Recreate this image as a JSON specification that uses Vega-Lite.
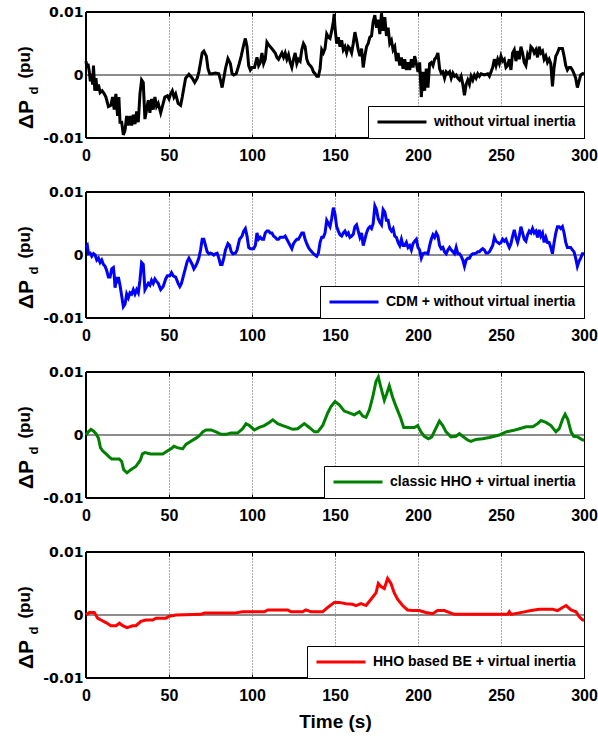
{
  "$schema": "https://vega.github.io/schema/vega-lite/v6.json",
  "background": "white",
  "padding": {"left": 14, "top": 4, "right": 6, "bottom": 4},
  "spacing": 54,
  "bounds": "flush",
  "resolve": {"scale": {"color": "independent"}},
  "config": {
    "view": {"stroke": "black", "strokeWidth": 1},
    "axis": {
      "grid": false,
      "domain": false,
      "tickColor": "black",
      "tickSize": -4,
      "labelColor": "black",
      "titleColor": "black",
      "labelFont": "Liberation Sans",
      "labelFontWeight": "bold",
      "titleFont": "Liberation Sans",
      "titleFontWeight": "bold"
    },
    "legend": {
      "orient": "bottom-right",
      "offset": 0,
      "padding": 8,
      "strokeColor": "black",
      "fillColor": "white",
      "cornerRadius": 0,
      "symbolType": "stroke",
      "symbolSize": 2401,
      "symbolStrokeWidth": 3,
      "clipHeight": 16,
      "labelFont": "Liberation Sans",
      "labelFontWeight": "bold",
      "labelFontSize": 14,
      "labelColor": "black",
      "labelOffset": 6,
      "labelLimit": 400
    }
  },
  "datasets": {
    "black": [
      {"t":0,"v":0.0022},{"t":0.6,"v":0.0012},{"t":1.2,"v":0.0018},{"t":2,"v":0.0005},{"t":2.6,"v":-0.001},{"t":3.2,"v":0.0002},{"t":4,"v":-0.0015},{"t":4.5,"v":0.0015},{"t":5.3,"v":-0.0025},{"t":6,"v":-0.0005},{"t":6.7,"v":-0.0025},{"t":7.5,"v":-0.0015},{"t":8.5,"v":-0.0028},{"t":9.7,"v":-0.0025},{"t":11,"v":-0.003},{"t":12,"v":-0.0035},{"t":13.5,"v":-0.005},{"t":15,"v":-0.0048},{"t":16,"v":-0.0035},{"t":17,"v":-0.0055},{"t":18,"v":-0.003},{"t":19,"v":-0.0065},{"t":19.8,"v":-0.0035},{"t":20.5,"v":-0.0075},{"t":21.5,"v":-0.0075},{"t":22.5,"v":-0.0095},{"t":23.5,"v":-0.0088},{"t":24.5,"v":-0.0065},{"t":25.5,"v":-0.008},{"t":26.5,"v":-0.0065},{"t":27.5,"v":-0.008},{"t":28.5,"v":-0.0063},{"t":29.5,"v":-0.0078},{"t":30.5,"v":-0.0058},{"t":31.5,"v":-0.0075},{"t":32.5,"v":-0.003},{"t":33.5,"v":-0.0008},{"t":34.5,"v":-0.0012},{"t":35.5,"v":-0.007},{"t":36.5,"v":-0.0055},{"t":37.5,"v":-0.004},{"t":38.5,"v":-0.006},{"t":39.5,"v":-0.0038},{"t":40.5,"v":-0.0055},{"t":41.5,"v":-0.0035},{"t":42.5,"v":-0.005},{"t":43.5,"v":-0.0045},{"t":45,"v":-0.006},{"t":46.5,"v":-0.0045},{"t":47.5,"v":-0.0035},{"t":49,"v":-0.0033},{"t":50,"v":-0.0038},{"t":51,"v":-0.003},{"t":52,"v":-0.0025},{"t":53,"v":-0.0035},{"t":54,"v":-0.003},{"t":55.5,"v":-0.0045},{"t":57,"v":-0.0048},{"t":58,"v":-0.0035},{"t":59,"v":-0.002},{"t":60,"v":-0.0005},{"t":62,"v":0.0001},{"t":64,"v":-0.0005},{"t":65.5,"v":-0.0012},{"t":67,"v":-0.0005},{"t":68,"v":0.0005},{"t":69,"v":0.002},{"t":70,"v":0.0035},{"t":71,"v":0.0038},{"t":72.5,"v":0.003},{"t":73.5,"v":0.001},{"t":74.5,"v":0.0002},{"t":76,"v":0.0002},{"t":78,"v":0.0003},{"t":80,"v":0.0002},{"t":81,"v":-0.0008},{"t":82,"v":-0.002},{"t":83,"v":-0.0005},{"t":84,"v":0.001},{"t":85.5,"v":0.0026},{"t":87,"v":0.0018},{"t":88,"v":0.0002},{"t":89,"v":0},{"t":90.5,"v":0.0002},{"t":92,"v":0.0015},{"t":93.5,"v":0.003},{"t":95,"v":0.0048},{"t":96,"v":0.0058},{"t":97,"v":0.0045},{"t":98,"v":0.0015},{"t":99,"v":0.0008},{"t":100,"v":0.0012},{"t":101.5,"v":0.0012},{"t":103,"v":0.0028},{"t":104,"v":0.0015},{"t":105,"v":0.002},{"t":106,"v":0.0035},{"t":107,"v":0.0018},{"t":108,"v":0.0025},{"t":109,"v":0.0052},{"t":110,"v":0.0048},{"t":111,"v":0.0045},{"t":112.5,"v":0.004},{"t":114,"v":0.0035},{"t":115,"v":0.0028},{"t":116,"v":0.0025},{"t":117,"v":0.003},{"t":118,"v":0.0035},{"t":119,"v":0.0028},{"t":120,"v":0.0035},{"t":121,"v":0.0025},{"t":122,"v":0.0032},{"t":123,"v":0.002},{"t":124,"v":0.0012},{"t":125,"v":0.0025},{"t":126,"v":0.0035},{"t":127,"v":0.0018},{"t":128,"v":0.0025},{"t":129,"v":0.0022},{"t":130,"v":0.004},{"t":131,"v":0.005},{"t":132,"v":0.0045},{"t":133,"v":0.0025},{"t":134,"v":0.0018},{"t":135,"v":0.0015},{"t":136,"v":0.0012},{"t":137,"v":0.0005},{"t":138,"v":0.0002},{"t":139,"v":-0.0002},{"t":140,"v":-0.0002},{"t":141,"v":0.001},{"t":142,"v":0.004},{"t":143,"v":0.0035},{"t":144,"v":0.0042},{"t":145,"v":0.0065},{"t":146,"v":0.006},{"t":147,"v":0.0058},{"t":148,"v":0.007},{"t":149,"v":0.0085},{"t":149.5,"v":0.0097},{"t":150,"v":0.0075},{"t":151,"v":0.005},{"t":152,"v":0.006},{"t":153,"v":0.0045},{"t":154,"v":0.0055},{"t":155,"v":0.004},{"t":156,"v":0.0045},{"t":157,"v":0.0035},{"t":158,"v":0.0045},{"t":159,"v":0.0042},{"t":160,"v":0.0035},{"t":161,"v":0.005},{"t":162,"v":0.0068},{"t":163,"v":0.0055},{"t":164,"v":0.004},{"t":165,"v":0.003},{"t":166,"v":0.0042},{"t":167,"v":0.0012},{"t":168,"v":0.003},{"t":169,"v":0.0045},{"t":170,"v":0.005},{"t":171,"v":0.006},{"t":172,"v":0.0062},{"t":173,"v":0.0085},{"t":174,"v":0.0095},{"t":175,"v":0.0075},{"t":176,"v":0.0088},{"t":177,"v":0.0065},{"t":178,"v":0.0098},{"t":179,"v":0.007},{"t":180,"v":0.0092},{"t":181,"v":0.0062},{"t":182,"v":0.0075},{"t":183,"v":0.005},{"t":184,"v":0.0055},{"t":185,"v":0.004},{"t":186,"v":0.0045},{"t":187,"v":0.0022},{"t":188,"v":0.0035},{"t":189,"v":0.0015},{"t":190,"v":0.0028},{"t":191,"v":0.001},{"t":192,"v":0.0025},{"t":193,"v":0.0008},{"t":194,"v":0.002},{"t":195,"v":0.0008},{"t":196,"v":0.0025},{"t":197,"v":0.0012},{"t":198,"v":0.003},{"t":199,"v":0.0018},{"t":200,"v":0.0005},{"t":201,"v":0.002},{"t":202,"v":-0.0035},{"t":203,"v":0.0005},{"t":204,"v":-0.0025},{"t":205,"v":0.001},{"t":206,"v":-0.002},{"t":207,"v":0.0018},{"t":208,"v":0.002},{"t":209,"v":0.0015},{"t":210,"v":0.0025},{"t":211,"v":0.0028},{"t":212,"v":0.0035},{"t":213,"v":0.001},{"t":214,"v":0.0003},{"t":215,"v":0.0005},{"t":216,"v":-0.0005},{"t":217,"v":0.0005},{"t":218,"v":0.0002},{"t":219,"v":0.0005},{"t":220,"v":-0.0005},{"t":221,"v":0.0003},{"t":222,"v":-0.0002},{"t":223,"v":0},{"t":224,"v":-0.0005},{"t":225,"v":-0.0008},{"t":226,"v":-0.0002},{"t":227,"v":-0.0015},{"t":228,"v":-0.0032},{"t":229,"v":-0.0015},{"t":230,"v":-0.0008},{"t":231,"v":-0.0015},{"t":232,"v":-0.0002},{"t":233,"v":-0.0008},{"t":234,"v":0},{"t":235,"v":-0.0005},{"t":236,"v":0.0002},{"t":237,"v":-0.0002},{"t":238,"v":0.0002},{"t":240,"v":0},{"t":242,"v":0.0002},{"t":243,"v":-0.0002},{"t":244,"v":0.0005},{"t":245,"v":0.0012},{"t":246,"v":0.0025},{"t":247,"v":0.0015},{"t":248,"v":0.0025},{"t":249,"v":0.0018},{"t":250,"v":0.003},{"t":251,"v":0.0022},{"t":252,"v":0.0025},{"t":253,"v":0.0012},{"t":254,"v":0.0015},{"t":255,"v":0.0025},{"t":256,"v":0.0008},{"t":257,"v":0.0035},{"t":258,"v":0.004},{"t":259,"v":0.0022},{"t":260,"v":0.0038},{"t":261,"v":0.0025},{"t":262,"v":0.0045},{"t":263,"v":0.0035},{"t":264,"v":0.002},{"t":265,"v":0.0015},{"t":266,"v":0.0032},{"t":267,"v":0.0025},{"t":268,"v":0.0045},{"t":269,"v":0.0042},{"t":270,"v":0.0035},{"t":271,"v":0.004},{"t":272,"v":0.0028},{"t":273,"v":0.0045},{"t":274,"v":0.0035},{"t":275,"v":0.0038},{"t":276,"v":0.0025},{"t":277,"v":0.003},{"t":278,"v":0.002},{"t":279,"v":0.0025},{"t":280,"v":0.0018},{"t":281,"v":-0.0018},{"t":282,"v":0.0012},{"t":283,"v":0.003},{"t":284,"v":0.0035},{"t":285,"v":0.0042},{"t":286,"v":0.0042},{"t":287,"v":0.0042},{"t":288,"v":0.003},{"t":289,"v":0.0015},{"t":290,"v":0.0008},{"t":291,"v":0.0012},{"t":292,"v":0.0012},{"t":293,"v":0.0008},{"t":294,"v":0.0002},{"t":295,"v":-0.0005},{"t":296,"v":-0.002},{"t":297,"v":-0.001},{"t":298,"v":0},{"t":299,"v":0.0002},{"t":300,"v":0.0003}
    ],
    "blue": [
      {"t":0,"v":0.0012},{"t":0.8,"v":0.0015},{"t":1.5,"v":0.0002},{"t":2.5,"v":0.0003},{"t":3.5,"v":-0.0002},{"t":4.5,"v":0.0002},{"t":5.5,"v":0},{"t":6.5,"v":-0.0008},{"t":7.5,"v":-0.0005},{"t":8.5,"v":-0.0012},{"t":9.5,"v":-0.0008},{"t":10.5,"v":-0.0015},{"t":11.5,"v":-0.0018},{"t":12.5,"v":-0.0025},{"t":13.5,"v":-0.0035},{"t":14.5,"v":-0.0035},{"t":15.5,"v":-0.0022},{"t":16.5,"v":-0.002},{"t":17,"v":-0.0032},{"t":17.5,"v":-0.0052},{"t":18.5,"v":-0.0035},{"t":19,"v":-0.0045},{"t":19.5,"v":-0.0035},{"t":20.5,"v":-0.0048},{"t":21.5,"v":-0.0065},{"t":22.5,"v":-0.0082},{"t":23.5,"v":-0.0078},{"t":24.5,"v":-0.0062},{"t":25.5,"v":-0.0068},{"t":26.5,"v":-0.006},{"t":27.5,"v":-0.0062},{"t":28.5,"v":-0.0055},{"t":29.5,"v":-0.0062},{"t":30.5,"v":-0.0055},{"t":31.5,"v":-0.006},{"t":32.5,"v":-0.004},{"t":33.5,"v":-0.0012},{"t":34.5,"v":-0.0015},{"t":35.5,"v":-0.0055},{"t":36.5,"v":-0.005},{"t":37.5,"v":-0.0045},{"t":38.5,"v":-0.0048},{"t":39.5,"v":-0.004},{"t":40.5,"v":-0.0045},{"t":41.5,"v":-0.0038},{"t":42.5,"v":-0.0042},{"t":43.5,"v":-0.0045},{"t":45,"v":-0.0055},{"t":46.5,"v":-0.005},{"t":48,"v":-0.0038},{"t":49,"v":-0.0033},{"t":50.5,"v":-0.0033},{"t":51.5,"v":-0.0028},{"t":52.5,"v":-0.0033},{"t":54,"v":-0.0035},{"t":55.5,"v":-0.0045},{"t":56.5,"v":-0.005},{"t":57.5,"v":-0.0045},{"t":59,"v":-0.003},{"t":60,"v":-0.002},{"t":61,"v":-0.001},{"t":62,"v":-0.0005},{"t":63,"v":-0.001},{"t":64,"v":-0.0015},{"t":65,"v":-0.0022},{"t":66,"v":-0.0018},{"t":67,"v":-0.0012},{"t":68,"v":-0.0005},{"t":69,"v":0.0008},{"t":70,"v":0.0025},{"t":71,"v":0.0025},{"t":72,"v":0.0015},{"t":73,"v":0.0005},{"t":74,"v":0.0002},{"t":75,"v":0.0003},{"t":76,"v":0.0002},{"t":77,"v":0},{"t":78,"v":0.0002},{"t":79,"v":0.0003},{"t":80,"v":-0.0005},{"t":81,"v":-0.0015},{"t":82,"v":-0.0015},{"t":83,"v":-0.0005},{"t":84,"v":0.0008},{"t":85.5,"v":0.0018},{"t":86.5,"v":0.0015},{"t":87.5,"v":0.0005},{"t":88.5,"v":0.0002},{"t":90,"v":0.0003},{"t":91,"v":0.0008},{"t":92.5,"v":0.0025},{"t":94,"v":0.003},{"t":95,"v":0.0038},{"t":96,"v":0.0042},{"t":97,"v":0.003},{"t":98,"v":0.0012},{"t":99,"v":0.001},{"t":100,"v":0.001},{"t":101,"v":0.001},{"t":102,"v":0.0015},{"t":103,"v":0.0035},{"t":104,"v":0.0025},{"t":105,"v":0.0028},{"t":106,"v":0.0025},{"t":107,"v":0.0025},{"t":108,"v":0.0035},{"t":109,"v":0.0038},{"t":110,"v":0.0038},{"t":111,"v":0.0035},{"t":112,"v":0.0035},{"t":113,"v":0.003},{"t":114,"v":0.0028},{"t":115,"v":0.0025},{"t":116,"v":0.0025},{"t":117,"v":0.0028},{"t":118,"v":0.0028},{"t":119,"v":0.0028},{"t":120,"v":0.003},{"t":121,"v":0.0025},{"t":122,"v":0.002},{"t":123,"v":0.0015},{"t":124,"v":0.001},{"t":125,"v":0.0018},{"t":126,"v":0.0022},{"t":127,"v":0.0025},{"t":128,"v":0.0025},{"t":129,"v":0.003},{"t":130,"v":0.0035},{"t":131,"v":0.0035},{"t":132,"v":0.0025},{"t":133,"v":0.0018},{"t":134,"v":0.0012},{"t":135,"v":0.0008},{"t":136,"v":0.0005},{"t":137,"v":0.0002},{"t":138,"v":0},{"t":139,"v":-0.0002},{"t":140,"v":0.0003},{"t":141,"v":0.002},{"t":142,"v":0.0028},{"t":143,"v":0.0028},{"t":144,"v":0.0035},{"t":145,"v":0.0055},{"t":146,"v":0.005},{"t":147,"v":0.0045},{"t":148,"v":0.0058},{"t":149,"v":0.0075},{"t":150,"v":0.0065},{"t":151,"v":0.0045},{"t":152,"v":0.0038},{"t":153,"v":0.0032},{"t":154,"v":0.003},{"t":155,"v":0.0035},{"t":156,"v":0.0038},{"t":157,"v":0.0032},{"t":158,"v":0.0035},{"t":159,"v":0.0028},{"t":160,"v":0.003},{"t":161,"v":0.0033},{"t":162,"v":0.0045},{"t":163,"v":0.0048},{"t":164,"v":0.0038},{"t":165,"v":0.0028},{"t":166,"v":0.0035},{"t":167,"v":0.0015},{"t":168,"v":0.0025},{"t":169,"v":0.0035},{"t":170,"v":0.0042},{"t":171,"v":0.0045},{"t":172,"v":0.0042},{"t":173,"v":0.005},{"t":174,"v":0.0078},{"t":175,"v":0.0072},{"t":176,"v":0.0058},{"t":177,"v":0.0052},{"t":178,"v":0.0048},{"t":179,"v":0.0072},{"t":180,"v":0.0068},{"t":181,"v":0.0055},{"t":182,"v":0.0055},{"t":183,"v":0.0042},{"t":184,"v":0.0038},{"t":185,"v":0.0042},{"t":186,"v":0.003},{"t":187,"v":0.0028},{"t":188,"v":0.002},{"t":189,"v":0.0015},{"t":190,"v":0.0025},{"t":191,"v":0.0015},{"t":192,"v":0.0015},{"t":193,"v":0.002},{"t":194,"v":0.0012},{"t":195,"v":0.0015},{"t":196,"v":0.0008},{"t":197,"v":0.0018},{"t":198,"v":0.0022},{"t":199,"v":0.0025},{"t":200,"v":0.0012},{"t":201,"v":0.0008},{"t":202,"v":-0.0005},{"t":203,"v":0.0002},{"t":204,"v":0.0003},{"t":205,"v":0.0003},{"t":206,"v":0.0002},{"t":207,"v":0.0015},{"t":208,"v":0.0025},{"t":209,"v":0.0032},{"t":210,"v":0.0028},{"t":211,"v":0.0035},{"t":212,"v":0.003},{"t":213,"v":0.0015},{"t":214,"v":0.001},{"t":215,"v":0.0012},{"t":216,"v":0.0005},{"t":217,"v":0.0002},{"t":218,"v":0.0008},{"t":219,"v":0.0012},{"t":220,"v":0.0008},{"t":221,"v":0.0005},{"t":222,"v":0.0002},{"t":223,"v":0.0012},{"t":224,"v":0.0002},{"t":225,"v":0.0002},{"t":226,"v":-0.0002},{"t":227,"v":-0.0008},{"t":228,"v":-0.0018},{"t":229,"v":-0.0008},{"t":230,"v":-0.0005},{"t":231,"v":-0.0005},{"t":232,"v":0},{"t":233,"v":0.0002},{"t":234,"v":0.0002},{"t":235,"v":0.0003},{"t":236,"v":0.0005},{"t":237,"v":0.0005},{"t":238,"v":0.0008},{"t":239,"v":0.001},{"t":240,"v":0.0008},{"t":241,"v":0.0003},{"t":242,"v":0.0003},{"t":243,"v":0.0005},{"t":244,"v":0.001},{"t":245,"v":0.0015},{"t":246,"v":0.0028},{"t":247,"v":0.0022},{"t":248,"v":0.002},{"t":249,"v":0.0018},{"t":250,"v":0.002},{"t":251,"v":0.0025},{"t":252,"v":0.0022},{"t":253,"v":0.0025},{"t":254,"v":0.0018},{"t":255,"v":0.0012},{"t":256,"v":0.0018},{"t":257,"v":0.003},{"t":258,"v":0.004},{"t":259,"v":0.0028},{"t":260,"v":0.002},{"t":261,"v":0.003},{"t":262,"v":0.0045},{"t":263,"v":0.0035},{"t":264,"v":0.0025},{"t":265,"v":0.0022},{"t":266,"v":0.0032},{"t":267,"v":0.0038},{"t":268,"v":0.0035},{"t":269,"v":0.0042},{"t":270,"v":0.0035},{"t":271,"v":0.0038},{"t":272,"v":0.0028},{"t":273,"v":0.004},{"t":274,"v":0.003},{"t":275,"v":0.0035},{"t":276,"v":0.002},{"t":277,"v":0.0028},{"t":278,"v":0.002},{"t":279,"v":0.002},{"t":280,"v":0.0012},{"t":281,"v":0.0002},{"t":282,"v":0.002},{"t":283,"v":0.0035},{"t":284,"v":0.0045},{"t":285,"v":0.0045},{"t":286,"v":0.0042},{"t":287,"v":0.0045},{"t":288,"v":0.0035},{"t":289,"v":0.002},{"t":290,"v":0.0012},{"t":291,"v":0.0012},{"t":292,"v":0.0012},{"t":293,"v":0.0008},{"t":294,"v":0.0005},{"t":295,"v":-0.0005},{"t":296,"v":-0.0018},{"t":297,"v":-0.001},{"t":298,"v":-0.0005},{"t":299,"v":0.0002},{"t":300,"v":0.0002}
    ],
    "green": [
      {"t":0,"v":0},{"t":1.4,"v":0.0005},{"t":3,"v":0.0009},{"t":4.6,"v":0.0006},{"t":6,"v":0.0002},{"t":7.5,"v":-0.0005},{"t":8.7,"v":-0.002},{"t":10,"v":-0.0025},{"t":12.1,"v":-0.003},{"t":14.1,"v":-0.0035},{"t":15.5,"v":-0.0038},{"t":17,"v":-0.0038},{"t":20,"v":-0.0038},{"t":21.5,"v":-0.0042},{"t":22.7,"v":-0.0055},{"t":24.7,"v":-0.006},{"t":27,"v":-0.0055},{"t":30,"v":-0.005},{"t":32.7,"v":-0.004},{"t":34,"v":-0.003},{"t":35.5,"v":-0.0028},{"t":39,"v":-0.003},{"t":43,"v":-0.003},{"t":46.2,"v":-0.003},{"t":49.2,"v":-0.0025},{"t":51.2,"v":-0.0022},{"t":53,"v":-0.0018},{"t":55,"v":-0.002},{"t":58.2,"v":-0.0022},{"t":60.2,"v":-0.0015},{"t":63.2,"v":-0.001},{"t":66.3,"v":-0.0005},{"t":68.8,"v":0},{"t":70.3,"v":0.0005},{"t":72.3,"v":0.0008},{"t":75.3,"v":0.0008},{"t":78.3,"v":0.0005},{"t":81.3,"v":0.0001},{"t":84.3,"v":0.0001},{"t":87.3,"v":0.0003},{"t":91.3,"v":0.0003},{"t":94.4,"v":0.001},{"t":96.4,"v":0.0018},{"t":98.4,"v":0.0015},{"t":101.4,"v":0.0008},{"t":104.4,"v":0.0012},{"t":107.4,"v":0.0015},{"t":110.4,"v":0.002},{"t":112.5,"v":0.0024},{"t":115.5,"v":0.0018},{"t":118.5,"v":0.0015},{"t":121.5,"v":0.0012},{"t":124.5,"v":0.0009},{"t":127.5,"v":0.001},{"t":131.5,"v":0.0018},{"t":134.5,"v":0.0012},{"t":137.6,"v":0.0005},{"t":139.6,"v":0.0005},{"t":142.6,"v":0.0015},{"t":145.6,"v":0.0035},{"t":147.6,"v":0.0045},{"t":150,"v":0.0053},{"t":152.6,"v":0.0048},{"t":155.6,"v":0.0038},{"t":158.6,"v":0.0035},{"t":161.6,"v":0.0032},{"t":164.7,"v":0.0037},{"t":166.7,"v":0.003},{"t":168.7,"v":0.0028},{"t":170.7,"v":0.004},{"t":172.7,"v":0.006},{"t":174.7,"v":0.0085},{"t":176.1,"v":0.0092},{"t":177.7,"v":0.0075},{"t":179.7,"v":0.0055},{"t":181.1,"v":0.0065},{"t":182.7,"v":0.0078},{"t":184.7,"v":0.006},{"t":186.8,"v":0.0045},{"t":189.4,"v":0.0028},{"t":191.4,"v":0.0012},{"t":194.8,"v":0.0012},{"t":197.8,"v":0.0012},{"t":199.8,"v":0.0015},{"t":201.8,"v":0.0005},{"t":203.8,"v":-0.0002},{"t":206.3,"v":-0.0006},{"t":208.3,"v":-0.0003},{"t":210.3,"v":0.0008},{"t":212.9,"v":0.0022},{"t":214.9,"v":0.0015},{"t":216.9,"v":0.0005},{"t":219.9,"v":-0.0003},{"t":222.9,"v":-0.0002},{"t":224.9,"v":0.0002},{"t":226.9,"v":-0.0002},{"t":229.9,"v":-0.0008},{"t":231.9,"v":-0.001},{"t":234.9,"v":-0.0007},{"t":238.9,"v":-0.0006},{"t":243,"v":-0.0004},{"t":246,"v":-0.0002},{"t":249,"v":0},{"t":253,"v":0.0005},{"t":257.1,"v":0.0007},{"t":261.1,"v":0.001},{"t":265.1,"v":0.0013},{"t":269.1,"v":0.0013},{"t":272.1,"v":0.0018},{"t":274.1,"v":0.0023},{"t":277.1,"v":0.002},{"t":280.1,"v":0.0015},{"t":283.1,"v":0.0005},{"t":285.1,"v":0.001},{"t":287.1,"v":0.0025},{"t":288.6,"v":0.0033},{"t":290.2,"v":0.0025},{"t":292.2,"v":0.0005},{"t":293.8,"v":-0.0002},{"t":296.2,"v":-0.0003},{"t":299.2,"v":-0.0008},{"t":300,"v":-0.0008}
    ],
    "red": [
      {"t":0,"v":0},{"t":2,"v":0.0004},{"t":5,"v":0.0004},{"t":7,"v":-0.0005},{"t":9,"v":-0.0008},{"t":12,"v":-0.0012},{"t":15,"v":-0.0017},{"t":18.2,"v":-0.0017},{"t":20.1,"v":-0.0013},{"t":22.1,"v":-0.0017},{"t":24.7,"v":-0.002},{"t":28.1,"v":-0.0017},{"t":30.1,"v":-0.0017},{"t":33.1,"v":-0.001},{"t":36.1,"v":-0.0008},{"t":40.2,"v":-0.0008},{"t":42.2,"v":-0.0005},{"t":48.2,"v":-0.0005},{"t":50.2,"v":-0.0002},{"t":54.2,"v":0},{"t":69.3,"v":0.0001},{"t":71.3,"v":0.0003},{"t":89.3,"v":0.0003},{"t":94.4,"v":0.0005},{"t":107.4,"v":0.0005},{"t":109.5,"v":0.0008},{"t":121.5,"v":0.0008},{"t":123.5,"v":0.0005},{"t":130.5,"v":0.0005},{"t":132.5,"v":0.0008},{"t":135.6,"v":0.0005},{"t":142.6,"v":0.0005},{"t":145.6,"v":0.0012},{"t":149.6,"v":0.002},{"t":152.6,"v":0.002},{"t":156.6,"v":0.0018},{"t":160.6,"v":0.0017},{"t":162.6,"v":0.0015},{"t":165.7,"v":0.0018},{"t":168.7,"v":0.0015},{"t":171.7,"v":0.0025},{"t":174.7,"v":0.0035},{"t":176.1,"v":0.005},{"t":177.7,"v":0.0045},{"t":179.7,"v":0.0042},{"t":181.7,"v":0.0058},{"t":183.7,"v":0.005},{"t":185.7,"v":0.0035},{"t":187.7,"v":0.0025},{"t":190.7,"v":0.0015},{"t":193.7,"v":0.0008},{"t":196.7,"v":0.0007},{"t":200.8,"v":0.0007},{"t":204.8,"v":0.0004},{"t":208.8,"v":0.0002},{"t":211.8,"v":0.0007},{"t":215.8,"v":0.0007},{"t":219.9,"v":0.0003},{"t":221.9,"v":0.0001},{"t":231.9,"v":0.0001},{"t":243.9,"v":0.0001},{"t":254,"v":0.0001},{"t":255,"v":0.0005},{"t":256,"v":0.0001},{"t":264.1,"v":0.0005},{"t":268.1,"v":0.0007},{"t":273.1,"v":0.0009},{"t":281.1,"v":0.0009},{"t":284.1,"v":0.0007},{"t":287.1,"v":0.0012},{"t":289.2,"v":0.0015},{"t":292.2,"v":0.0008},{"t":295.2,"v":0.0005},{"t":297.2,"v":-0.0003},{"t":299.2,"v":-0.0008},{"t":300,"v":-0.0008}
    ]
  },
  "vconcat": [
    {
      "width": 498, "height": 126,
      "data": {"name": "black"},
      "resolve": {"axis": {"x": "independent", "y": "independent"}},
      "layer": [
        {"mark": {"type": "rule", "color": "#8c8c8c", "strokeWidth": 1},
         "encoding": {"y": {"datum": 0, "type": "quantitative", "scale": {"domain": [-0.01, 0.01], "nice": false},
           "axis": {"orient": "right", "values": [-0.01, 0, 0.01], "labels": false, "title": null}}}},
        {"mark": {"type": "rule", "color": "black", "strokeWidth": 1},
         "encoding": {"x": {"datum": 0, "type": "quantitative", "scale": {"domain": [0, 300], "nice": false},
           "axis": {"orient": "top", "values": [50, 100, 150, 200, 250], "labels": false, "title": null, "grid": true, "gridDash": [1, 2], "gridColor": "#555555", "gridWidth": 1}}}},
        {"mark": {"type": "line", "strokeWidth": 3},
         "encoding": {
           "x": {"field": "t", "type": "quantitative", "scale": {"domain": [0, 300], "nice": false},
             "axis": {"values": [0, 50, 100, 150, 200, 250, 300], "title": null, "labelFontSize": 16, "labelPadding": 13, "labelFlush": false}},
           "y": {"field": "v", "type": "quantitative", "scale": {"domain": [-0.01, 0.01], "nice": false},
             "axis": {"values": [-0.01, 0, 0.01], "labelExpr": "replace(format(datum.value, '~g'), '\u2212', '-')", "labelFont": "DejaVu Sans", "labelFontSize": 14, "labelPadding": 7, "labelFlush": false,
               "title": "ΔP", "titleFontSize": 21, "titleAngle": 270, "titleAlign": "center", "titleBaseline": "middle", "titleX": -60, "titleY": 102}},
           "color": {"datum": "without virtual inertia", "scale": {"range": ["#000000"]}, "legend": {"title": null}}
         }},
        {"mark": {"type": "rule", "color": "black", "strokeWidth": 1},
         "encoding": {"y": {"datum": -0.01, "type": "quantitative", "scale": {"domain": [-0.01, 0.01], "nice": false},
           "axis": {"orient": "left", "labels": false, "ticks": false, "title": "d", "titleFontSize": 13, "titleAngle": 270, "titleAlign": "center", "titleBaseline": "middle", "titleX": -53, "titleY": 78}}}},
        {"mark": {"type": "rule", "color": "black", "strokeWidth": 1},
         "encoding": {"y": {"datum": 0.01, "type": "quantitative", "scale": {"domain": [-0.01, 0.01], "nice": false},
           "axis": {"orient": "left", "labels": false, "ticks": false, "title": "(pu)", "titleFontSize": 17, "titleAngle": 270, "titleAlign": "center", "titleBaseline": "middle", "titleX": -62, "titleY": 50}}}}
      ]
    },
    {
      "width": 498, "height": 126,
      "data": {"name": "blue"},
      "resolve": {"axis": {"x": "independent", "y": "independent"}},
      "layer": [
        {"mark": {"type": "rule", "color": "#8c8c8c", "strokeWidth": 1},
         "encoding": {"y": {"datum": 0, "type": "quantitative", "scale": {"domain": [-0.01, 0.01], "nice": false},
           "axis": {"orient": "right", "values": [-0.01, 0, 0.01], "labels": false, "title": null}}}},
        {"mark": {"type": "rule", "color": "black", "strokeWidth": 1},
         "encoding": {"x": {"datum": 0, "type": "quantitative", "scale": {"domain": [0, 300], "nice": false},
           "axis": {"orient": "top", "values": [50, 100, 150, 200, 250], "labels": false, "title": null, "grid": true, "gridDash": [1, 2], "gridColor": "#555555", "gridWidth": 1}}}},
        {"mark": {"type": "line", "strokeWidth": 3},
         "encoding": {
           "x": {"field": "t", "type": "quantitative", "scale": {"domain": [0, 300], "nice": false},
             "axis": {"values": [0, 50, 100, 150, 200, 250, 300], "title": null, "labelFontSize": 16, "labelPadding": 13, "labelFlush": false}},
           "y": {"field": "v", "type": "quantitative", "scale": {"domain": [-0.01, 0.01], "nice": false},
             "axis": {"values": [-0.01, 0, 0.01], "labelExpr": "replace(format(datum.value, '~g'), '\u2212', '-')", "labelFont": "DejaVu Sans", "labelFontSize": 14, "labelPadding": 7, "labelFlush": false,
               "title": "ΔP", "titleFontSize": 21, "titleAngle": 270, "titleAlign": "center", "titleBaseline": "middle", "titleX": -60, "titleY": 102}},
           "color": {"datum": "CDM + without virtual inertia", "scale": {"range": ["#0000ff"]}, "legend": {"title": null}}
         }},
        {"mark": {"type": "rule", "color": "black", "strokeWidth": 1},
         "encoding": {"y": {"datum": -0.01, "type": "quantitative", "scale": {"domain": [-0.01, 0.01], "nice": false},
           "axis": {"orient": "left", "labels": false, "ticks": false, "title": "d", "titleFontSize": 13, "titleAngle": 270, "titleAlign": "center", "titleBaseline": "middle", "titleX": -53, "titleY": 78}}}},
        {"mark": {"type": "rule", "color": "black", "strokeWidth": 1},
         "encoding": {"y": {"datum": 0.01, "type": "quantitative", "scale": {"domain": [-0.01, 0.01], "nice": false},
           "axis": {"orient": "left", "labels": false, "ticks": false, "title": "(pu)", "titleFontSize": 17, "titleAngle": 270, "titleAlign": "center", "titleBaseline": "middle", "titleX": -62, "titleY": 50}}}}
      ]
    },
    {
      "width": 498, "height": 126,
      "data": {"name": "green"},
      "resolve": {"axis": {"x": "independent", "y": "independent"}},
      "layer": [
        {"mark": {"type": "rule", "color": "#8c8c8c", "strokeWidth": 1},
         "encoding": {"y": {"datum": 0, "type": "quantitative", "scale": {"domain": [-0.01, 0.01], "nice": false},
           "axis": {"orient": "right", "values": [-0.01, 0, 0.01], "labels": false, "title": null}}}},
        {"mark": {"type": "rule", "color": "black", "strokeWidth": 1},
         "encoding": {"x": {"datum": 0, "type": "quantitative", "scale": {"domain": [0, 300], "nice": false},
           "axis": {"orient": "top", "values": [50, 100, 150, 200, 250], "labels": false, "title": null, "grid": true, "gridDash": [1, 2], "gridColor": "#555555", "gridWidth": 1}}}},
        {"mark": {"type": "line", "strokeWidth": 3},
         "encoding": {
           "x": {"field": "t", "type": "quantitative", "scale": {"domain": [0, 300], "nice": false},
             "axis": {"values": [0, 50, 100, 150, 200, 250, 300], "title": null, "labelFontSize": 16, "labelPadding": 13, "labelFlush": false}},
           "y": {"field": "v", "type": "quantitative", "scale": {"domain": [-0.01, 0.01], "nice": false},
             "axis": {"values": [-0.01, 0, 0.01], "labelExpr": "replace(format(datum.value, '~g'), '\u2212', '-')", "labelFont": "DejaVu Sans", "labelFontSize": 14, "labelPadding": 7, "labelFlush": false,
               "title": "ΔP", "titleFontSize": 21, "titleAngle": 270, "titleAlign": "center", "titleBaseline": "middle", "titleX": -60, "titleY": 102}},
           "color": {"datum": "classic HHO + virtual inertia", "scale": {"range": ["#008000"]}, "legend": {"title": null}}
         }},
        {"mark": {"type": "rule", "color": "black", "strokeWidth": 1},
         "encoding": {"y": {"datum": -0.01, "type": "quantitative", "scale": {"domain": [-0.01, 0.01], "nice": false},
           "axis": {"orient": "left", "labels": false, "ticks": false, "title": "d", "titleFontSize": 13, "titleAngle": 270, "titleAlign": "center", "titleBaseline": "middle", "titleX": -53, "titleY": 78}}}},
        {"mark": {"type": "rule", "color": "black", "strokeWidth": 1},
         "encoding": {"y": {"datum": 0.01, "type": "quantitative", "scale": {"domain": [-0.01, 0.01], "nice": false},
           "axis": {"orient": "left", "labels": false, "ticks": false, "title": "(pu)", "titleFontSize": 17, "titleAngle": 270, "titleAlign": "center", "titleBaseline": "middle", "titleX": -62, "titleY": 50}}}}
      ]
    },
    {
      "width": 498, "height": 126,
      "data": {"name": "red"},
      "resolve": {"axis": {"x": "independent", "y": "independent"}},
      "layer": [
        {"mark": {"type": "rule", "color": "#8c8c8c", "strokeWidth": 1},
         "encoding": {"y": {"datum": 0, "type": "quantitative", "scale": {"domain": [-0.01, 0.01], "nice": false},
           "axis": {"orient": "right", "values": [-0.01, 0, 0.01], "labels": false, "title": null}}}},
        {"mark": {"type": "rule", "color": "black", "strokeWidth": 1},
         "encoding": {"x": {"datum": 0, "type": "quantitative", "scale": {"domain": [0, 300], "nice": false},
           "axis": {"orient": "top", "values": [50, 100, 150, 200, 250], "labels": false, "title": null, "grid": true, "gridDash": [1, 2], "gridColor": "#555555", "gridWidth": 1}}}},
        {"mark": {"type": "line", "strokeWidth": 3},
         "encoding": {
           "x": {"field": "t", "type": "quantitative", "scale": {"domain": [0, 300], "nice": false},
             "axis": {"values": [0, 50, 100, 150, 200, 250, 300], "labelFontSize": 16, "labelPadding": 13, "labelFlush": false,
               "title": "Time (s)", "titleFontSize": 19, "titlePadding": 9}},
           "y": {"field": "v", "type": "quantitative", "scale": {"domain": [-0.01, 0.01], "nice": false},
             "axis": {"values": [-0.01, 0, 0.01], "labelExpr": "replace(format(datum.value, '~g'), '\u2212', '-')", "labelFont": "DejaVu Sans", "labelFontSize": 14, "labelPadding": 7, "labelFlush": false,
               "title": "ΔP", "titleFontSize": 21, "titleAngle": 270, "titleAlign": "center", "titleBaseline": "middle", "titleX": -60, "titleY": 102}},
           "color": {"datum": "HHO based BE + virtual inertia", "scale": {"range": ["#ff0000"]}, "legend": {"title": null}}
         }},
        {"mark": {"type": "rule", "color": "black", "strokeWidth": 1},
         "encoding": {"y": {"datum": -0.01, "type": "quantitative", "scale": {"domain": [-0.01, 0.01], "nice": false},
           "axis": {"orient": "left", "labels": false, "ticks": false, "title": "d", "titleFontSize": 13, "titleAngle": 270, "titleAlign": "center", "titleBaseline": "middle", "titleX": -53, "titleY": 78}}}},
        {"mark": {"type": "rule", "color": "black", "strokeWidth": 1},
         "encoding": {"y": {"datum": 0.01, "type": "quantitative", "scale": {"domain": [-0.01, 0.01], "nice": false},
           "axis": {"orient": "left", "labels": false, "ticks": false, "title": "(pu)", "titleFontSize": 17, "titleAngle": 270, "titleAlign": "center", "titleBaseline": "middle", "titleX": -62, "titleY": 50}}}}
      ]
    }
  ]
}
